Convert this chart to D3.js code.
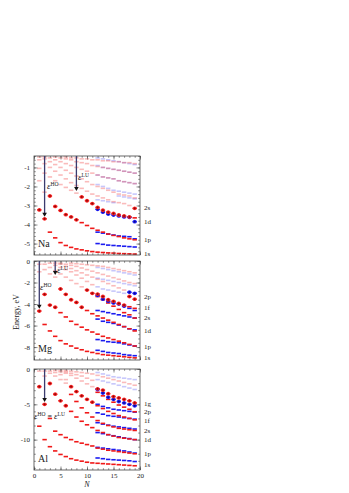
<!DOCTYPE html>
<html>
<head>
<meta charset="utf-8">
<script src="https://cdn.jsdelivr.net/npm/d3@7"></script>
<style>
  body { margin: 0; background: #fff; }
  svg { display: block; }
  text { font-family: "Liberation Serif", "Times New Roman", serif; fill: #222; }
</style>
</head>
<body>
<div id="chart"></div>
<script>
// cluster size N = 1..19, spin-down levels only shown for N = 12..19
const N = d3.range(1, 20);
const NB = d3.range(12, 20);

// ---- Na ----
const na1s = [-3.23, -3.7, -4.4, -4.7, -4.95, -5.1, -5.2, -5.28, -5.33, -5.38, -5.42, -5.45, -5.47, -5.49, -5.5, -5.52, -5.53, -5.54, -5.55];
const na1p = [-1.7, -2.3, -2.5, -3.05, -3.26, -3.48, -3.6, -3.75, -3.9, -4.05, -4.2, -4.3, -4.4, -4.5, -4.57, -4.63, -4.7, -4.75, -4.8];
const na1d = [-1.05, -1.3, -1.5, -1.7, -1.9, -2.05, -2.2, -2.35, -2.55, -2.75, -2.9, -3.1, -3.25, -3.35, -3.42, -3.5, -3.55, -3.6, -3.65];
const na2s = [-0.6, -0.8, -1.0, -1.2, -1.4, -1.6, -1.8, -1.95, -2.1, -2.25, -2.4, -2.5, -2.6, -2.7, -2.8, -2.85, -2.9, -3.0, -3.15];
const na1f = [-0.45, -0.55, -0.7, -0.85, -1.0, -1.15, -1.3, -1.45, -1.6, -1.75, -1.9, -2.0, -2.1, -2.2, -2.3, -2.4, -2.45, -2.5, -2.6];
const na2p = [null, -0.45, -0.5, -0.6, -0.7, -0.8, -0.9, -1.0, -1.1, -1.2, -1.3, -1.4, -1.5, -1.55, -1.6, -1.7, -1.75, -1.8, -1.85];
const na1g = [null, null, null, -0.45, -0.5, -0.55, -0.6, -0.7, -0.75, -0.8, -0.9, -0.95, -1.0, -1.05, -1.1, -1.15, -1.2, -1.25, -1.3];
const naTop = [null, null, null, null, null, -0.45, -0.5, -0.5, -0.55, -0.55, -0.6, -0.6, -0.65, -0.65, -0.7, -0.7, -0.75, -0.75, -0.8];
const naHomo = [-3.23, -3.7, -2.5, -3.05, -3.26, -3.48, -3.6, -3.75, -2.55, -2.75, -2.9, -3.1, -3.25, -3.35, -3.42, -3.5, -3.55, -3.6, -3.15];

const nbA = [-5.0, -5.04, -5.08, -5.1, -5.12, -5.14, -5.16, -5.18];
const nbB = [-4.4, -4.45, -4.5, -4.55, -4.6, -4.62, -4.64, -4.75];
const nbC = [-3.2, -3.35, -3.45, -3.5, -3.55, -3.6, -3.62, -3.85];
const nbD = [-2.7, -2.75, -2.8, -2.85, -2.5, -2.55, -2.6, -2.65];
const nbE = [-1.9, -2.0, -2.1, -2.2, -2.25, -2.3, -2.35, -2.4];
const nbF = [-1.4, -1.5, -1.55, -1.6, -1.7, -1.75, -1.8, -1.85];
const nbG = [-0.9, -1.0, -1.05, -1.1, -1.15, -1.2, -1.25, -1.3];
const nbH = [-0.5, -0.55, -0.6, -0.65, -0.7, -0.75, -0.8, -0.85];
const nbHomo = [-3.2, -3.35, -3.45, -3.5, -3.55, -3.6, -3.62, -3.85];

const naShell = ["2s", "1d", "1p", "1s"];
const naShellE = [-3.1, -3.85, -4.8, -5.55];
const naArrowN = [2, 8];
const naArrowE = [-3.7, -2.35];

// ---- Mg ----
const mg1s = [-4.65, -5.9, -6.5, -7.0, -7.4, -7.7, -7.9, -8.1, -8.25, -8.4, -8.5, -8.6, -8.7, -8.75, -8.8, -8.85, -8.9, -8.95, -9.0];
const mg1p = [-1.0, -3.1, -4.1, -4.3, -4.8, -5.2, -5.6, -5.9, -6.15, -6.4, -6.6, -6.8, -7.0, -7.15, -7.3, -7.45, -7.6, -7.75, -7.9];
const mg1d = [-0.3, -0.8, -1.2, -1.5, -2.6, -3.1, -3.6, -3.85, -4.3, -4.6, -4.9, -5.1, -5.3, -5.5, -5.7, -5.9, -6.1, -6.3, -6.5];
const mg2s = [null, -0.3, -0.6, -0.9, -1.2, -1.5, -1.8, -2.1, -2.4, -2.7, -3.0, -3.3, -3.6, -3.9, -4.2, -4.5, -4.8, -5.0, -5.3];
const mg1f = [null, null, -0.2, -0.4, -0.6, -0.8, -1.0, -1.3, -1.6, -1.9, -2.2, -3.07, -3.3, -3.6, -3.75, -3.95, -4.1, -4.25, -4.4];
const mg2p = [null, null, null, -0.2, -0.3, -0.5, -0.7, -0.9, -1.1, -1.3, -1.5, -1.7, -1.9, -2.1, -2.3, -2.5, -2.7, -3.3, -3.55];
const mg1g = [null, null, null, null, -0.2, -0.3, -0.4, -0.5, -0.65, -0.8, -0.95, -1.1, -1.25, -1.4, -1.55, -1.7, -1.85, -2.0, -2.1];
const mgTop = [null, null, null, null, null, null, -0.2, -0.25, -0.3, -0.35, -0.4, -0.45, -0.5, -0.6, -0.7, -0.8, -0.9, -1.0, -1.1];
const mgHomo = [-4.65, -3.1, -4.1, -4.3, -2.6, -3.1, -3.6, -3.85, -4.3, -2.7, -3.0, -3.07, -3.3, -3.6, -3.75, -3.95, -4.1, -3.3, -3.55];

const mbA = [-8.3, -8.4, -8.5, -8.55, -8.6, -8.7, -8.75, -8.8];
const mbB = [-7.3, -7.4, -7.5, -7.55, -7.6, -7.7, -7.8, -7.9];
const mbC = [-5.4, -5.6, -5.7, -5.8, -5.95, -6.1, -6.3, -6.4];
const mbD = [-4.6, -4.7, -4.8, -4.9, -5.0, -5.1, -5.2, -5.3];
const mbE = [-3.2, -3.55, -3.75, -3.9, -4.0, -4.2, -4.4, -4.6];
const mbF = [-2.4, -2.6, -2.7, -2.8, -2.9, -3.0, -2.9, -3.0];
const mbG = [-1.6, -1.7, -1.8, -1.9, -2.0, -2.1, -2.2, -2.3];
const mbH = [-0.6, -0.7, -0.8, -0.9, -1.0, -1.1, -1.2, -1.3];
const mbHomo = [-3.2, -3.55, -3.75, -3.9, -4.0, -4.2, -2.9, -3.0];

const mgShell = ["2p", "1f", "2s", "1d", "1p", "1s"];
const mgShellE = [-3.35, -4.37, -5.3, -6.5, -8.0, -9.0];
const mgArrowN = [1, 4];
const mgArrowE = [-4.65, -1.5];

// ---- Al ----
const al1s = [-8.1, -10.0, -11.0, -11.6, -12.1, -12.4, -12.7, -12.9, -13.05, -13.2, -13.3, -13.35, -13.4, -13.45, -13.5, -13.55, -13.6, -13.65, -13.7];
const al1p = [-2.5, -5.0, -7.0, -8.8, -9.3, -9.7, -10.0, -10.3, -10.5, -10.7, -10.9, -11.2, -11.35, -11.5, -11.6, -11.7, -11.8, -11.9, -12.0];
const al1d = [-0.3, -1.0, -2.05, -3.57, -4.5, -5.2, -6.0, -6.8, -7.4, -7.9, -8.3, -8.7, -9.0, -9.3, -9.5, -9.7, -9.8, -9.9, -10.0];
const al2s = [null, -0.3, -0.6, -1.0, -1.5, -2.0, -3.6, -4.6, -5.5, -6.2, -6.8, -7.3, -7.7, -8.0, -8.2, -8.4, -8.5, -8.6, -8.7];
const al1f = [null, null, -0.3, -0.5, -0.8, -1.5, -2.5, -3.2, -3.8, -4.3, -4.7, -5.2, -5.6, -6.0, -6.3, -6.6, -6.8, -7.0, -7.2];
const al2p = [null, null, null, -0.2, -0.4, -0.6, -0.9, -1.3, -1.7, -2.1, -2.5, -3.3, -3.8, -4.3, -4.7, -5.1, -5.4, -5.7, -6.05];
const al1g = [null, null, null, null, -0.2, -0.4, -0.6, -0.8, -1.0, -1.3, -1.6, -2.8, -3.0, -3.5, -3.9, -4.1, -4.3, -4.5, -4.8];
const alTop = [null, null, null, null, null, -0.2, -0.3, -0.4, -0.5, -0.6, -0.7, -0.9, -1.1, -1.3, -1.5, -1.7, -1.9, -2.1, -2.3];
const alHomo = [-2.5, -5.0, -2.05, -3.57, -4.5, -5.2, -2.5, -3.2, -3.8, -4.3, -4.7, -2.8, -3.0, -3.5, -3.9, -4.1, -4.3, -4.5, -4.8];

const abA = [-12.6, -12.7, -12.8, -12.85, -12.9, -12.95, -13.0, -13.1];
const abB = [-11.1, -11.2, -11.3, -11.4, -11.5, -11.6, -11.75, -11.9];
const abC = [-9.0, -9.15, -9.3, -9.45, -9.6, -9.75, -9.85, -10.0];
const abD = [-7.6, -7.8, -7.95, -8.1, -8.2, -8.3, -8.4, -8.5];
const abE = [-6.2, -6.4, -6.6, -6.7, -6.8, -6.9, -7.0, -7.1];
const abF = [-5.0, -5.3, -5.5, -5.7, -5.8, -5.9, -6.0, -6.1];
const abG = [-2.9, -3.4, -4.0, -4.3, -4.6, -4.8, -5.0, -5.2];
const abH = [-1.5, -1.7, -1.9, -2.1, -2.3, -2.5, -2.7, -2.9];
const abI = [-0.5, -0.7, -0.9, -1.1, -1.2, -1.3, -1.4, -1.5];
const abHomo = [-2.9, -3.4, -4.0, -4.3, -4.6, -4.8, -5.0, -5.2];

const alShell = ["1g", "2p", "1f", "2s", "1d", "1p", "1s"];
const alShellE = [-4.95, -6.1, -7.25, -8.7, -10.0, -12.0, -13.5];
const alArrowN = [2];
const alArrowE = [-5.0];

const xTicks = [0, 5, 10, 15, 20];

const w = 349, h = 493;
const left = 34, right = 140;

const panels = [
  { name: "Na", top: 156, bottom: 255, domain: [-5.6, -0.4], major: [-5, -4, -3, -2, -1], minor: 0.2,
    red: [na1s, na1p, na1d, na2s, na1f, na2p, na1g, naTop], homo: naHomo,
    blue: [nbA, nbB, nbC, nbD, nbE, nbF, nbG, nbH], homoB: nbHomo,
    shells: naShell, shellE: naShellE, arrowN: naArrowN, arrowE: naArrowE },
  { name: "Mg", top: 261, bottom: 360, domain: [-9.2, 0], major: [-8, -6, -4, -2, 0], minor: 0.4,
    red: [mg1s, mg1p, mg1d, mg2s, mg1f, mg2p, mg1g, mgTop], homo: mgHomo,
    blue: [mbA, mbB, mbC, mbD, mbE, mbF, mbG, mbH], homoB: mbHomo,
    shells: mgShell, shellE: mgShellE, arrowN: mgArrowN, arrowE: mgArrowE },
  { name: "Al", top: 369, bottom: 470, domain: [-14.3, 0], major: [-10, -5, 0], minor: 1,
    red: [al1s, al1p, al1d, al2s, al1f, al2p, al1g, alTop], homo: alHomo,
    blue: [abA, abB, abC, abD, abE, abF, abG, abH, abI], homoB: abHomo,
    shells: alShell, shellE: alShellE, arrowN: alArrowN, arrowE: alArrowE }
];

const svg = d3.select("#chart").append("svg")
  .attr("width", w)
  .attr("height", h);

const x = d3.scaleLinear().domain([0, 20]).range([left, right]);

const redFull = "#f01818", redLight = "rgba(240,30,30,0.3)";
const blueFull = "#1c1cf0", blueLight = "rgba(40,40,240,0.26)";

panels.forEach((p, pi) => {
  const y = d3.scaleLinear().domain(p.domain).range([p.bottom, p.top]);
  const g = svg.append("g").attr("class", "panel-" + p.name);

  // collect levels
  const levels = [];
  p.blue.forEach(band => band.forEach((e, i) => {
    if (e !== null) levels.push({ n: NB[i], e: e, spin: "d", occ: e <= p.homoB[i] + 0.01 });
  }));
  p.red.forEach(band => band.forEach((e, i) => {
    if (e !== null) levels.push({ n: N[i], e: e, spin: "u", occ: e <= p.homo[i] + 0.01 });
  }));

  g.selectAll("rect.level")
    .data(levels)
    .enter()
    .append("rect")
    .attr("class", "level")
    .attr("x", d => x(d.n) - 2.2)
    .attr("y", d => y(d.e) - 0.8)
    .attr("width", 4.4)
    .attr("height", 1.6)
    .attr("fill", d => d.spin === "u" ? (d.occ ? redFull : redLight) : (d.occ ? blueFull : blueLight));

  // HOMO dots
  const dots = [];
  p.homoB.forEach((e, i) => dots.push({ n: NB[i], e: e, spin: "d" }));
  p.homo.forEach((e, i) => dots.push({ n: N[i], e: e, spin: "u" }));

  const dg = g.selectAll("g.dot")
    .data(dots)
    .enter()
    .append("g")
    .attr("class", "dot")
    .attr("transform", d => `translate(${x(d.n)},${y(d.e)})`);
  dg.append("circle")
    .attr("r", 1.9)
    .attr("fill", d => d.spin === "u" ? "#ff2424" : "#2424ff");
  dg.append("path")
    .attr("d", "M-1.2,0H1.2M0,-1.2V1.2")
    .attr("stroke", d => d.spin === "u" ? "#600" : "#006")
    .attr("stroke-width", 0.6);

  // frame
  g.append("rect")
    .attr("x", left).attr("y", p.top)
    .attr("width", right - left).attr("height", p.bottom - p.top)
    .attr("fill", "none").attr("stroke", "#444").attr("stroke-width", 0.8);

  // ticks inside on all four sides
  const minorY = d3.range(Math.ceil(p.domain[0] / p.minor) * p.minor, p.domain[1] + 1e-6, p.minor);
  const minorX = d3.range(0, 21);
  const tickStyle = sel => {
    sel.select(".domain").remove();
    sel.selectAll("line").attr("stroke", "#444").attr("stroke-width", 0.6);
  };

  g.append("g").attr("transform", `translate(${left},0)`)
    .call(d3.axisLeft(y).tickValues(minorY).tickSize(-1.8).tickFormat(""))
    .call(tickStyle);
  g.append("g").attr("transform", `translate(${right},0)`)
    .call(d3.axisRight(y).tickValues(minorY).tickSize(-1.8).tickFormat(""))
    .call(tickStyle);
  g.append("g").attr("transform", `translate(${right},0)`)
    .call(d3.axisRight(y).tickValues(p.major).tickSize(-3.5).tickFormat(""))
    .call(tickStyle);
  g.append("g").attr("transform", `translate(${left},0)`)
    .call(d3.axisLeft(y).tickValues(p.major).tickSize(-3.5).tickPadding(4).tickFormat(d => String(d)))
    .call(tickStyle)
    .call(s => s.selectAll("text").attr("font-size", 7).attr("fill", "#222")
      .attr("font-family", "Liberation Serif, serif"));

  [p.top, p.bottom].forEach((yy, k) => {
    const ax = k === 0 ? d3.axisTop : d3.axisBottom;
    g.append("g").attr("transform", `translate(0,${yy})`)
      .call(ax(x).tickValues(minorX).tickSize(-1.8).tickFormat(""))
      .call(tickStyle);
    const major = g.append("g").attr("transform", `translate(0,${yy})`)
      .call(ax(x).tickValues(xTicks).tickSize(-3.5).tickPadding(3)
        .tickFormat(d => (k === 1 && pi === panels.length - 1) ? String(d) : ""))
      .call(tickStyle);
    major.selectAll("text").attr("font-size", 7).attr("fill", "#222")
      .attr("font-family", "Liberation Serif, serif");
  });

  // shell labels on the right
  g.selectAll("text.shell")
    .data(p.shells)
    .enter()
    .append("text")
    .attr("class", "shell")
    .attr("x", 144)
    .attr("y", (d, i) => y(p.shellE[i]) + 2.3)
    .attr("font-size", 7)
    .text(d => d);

  // element label
  g.append("text")
    .attr("x", 38)
    .attr("y", p.bottom - 8)
    .attr("font-size", 10)
    .text(p.name);

  // arrows
  p.arrowN.forEach((n, i) => {
    const tipY = y(p.arrowE[i]) - 2.2;
    g.append("line")
      .attr("x1", x(n)).attr("x2", x(n))
      .attr("y1", p.top).attr("y2", tipY - 3)
      .attr("stroke", "#3b3b6e").attr("stroke-width", 1.3);
    g.append("path")
      .attr("d", `M${x(n) - 2.3},${tipY - 4}L${x(n) + 2.3},${tipY - 4}L${x(n)},${tipY}Z`)
      .attr("fill", "#111");
  });
});

// epsilon labels
function eps(xx, yy, sup) {
  const t = svg.append("text").attr("x", xx).attr("y", yy).attr("font-size", 9);
  t.append("tspan").attr("font-style", "italic").text("ε");
  t.append("tspan").attr("dy", -3.5).attr("font-size", 5.5).text(sup);
  return t;
}
eps(47, 189, "HO");
eps(78, 180, "LU");
eps(40, 290, "HO");
eps(57, 273, "LU");
const tAl = svg.append("text").attr("x", 34).attr("y", 419).attr("font-size", 9);
tAl.append("tspan").attr("font-style", "italic").text("ε");
tAl.append("tspan").attr("dy", -3.5).attr("font-size", 5.5).text("HO");
tAl.append("tspan").attr("dy", 3.5).attr("font-size", 8).text(" = ");
tAl.append("tspan").attr("font-style", "italic").text("ε");
tAl.append("tspan").attr("dy", -3.5).attr("font-size", 5.5).text("LU");

// axis titles
svg.append("text")
  .attr("transform", "translate(19,312) rotate(-90)")
  .attr("text-anchor", "middle")
  .attr("font-size", 8)
  .text("Energy, eV");

svg.append("text")
  .attr("x", 87)
  .attr("y", 487)
  .attr("text-anchor", "middle")
  .attr("font-size", 8)
  .attr("font-style", "italic")
  .text("N");
</script>
</body>
</html>
